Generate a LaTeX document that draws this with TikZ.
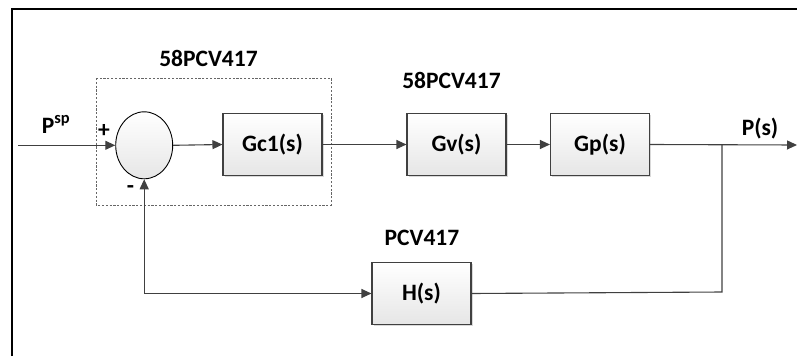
\documentclass[tikz,border=0pt]{standalone}
\usepackage{fontspec}
\setmainfont{Carlito}
\usetikzlibrary{arrows.meta,shapes.geometric,shadows}
\definecolor{wire}{HTML}{404040}
\definecolor{boxbot}{HTML}{E6E6E6}
\tikzset{
  labelfont/.style={font=\fontsize{23.5}{28}\selectfont\bfseries},
  block/.style={draw=wire, line width=1.1pt, rectangle, minimum width=99pt,
    minimum height=62pt, inner sep=0pt, top color=white, bottom color=boxbot,
    drop shadow={shadow xshift=1.5pt, shadow yshift=-1.5pt, opacity=0.3, fill=gray},
    labelfont},
  summer/.style={draw=black, line width=0.9pt, ellipse, minimum width=57pt,
    minimum height=67pt, inner sep=0pt, top color=white, bottom color=boxbot},
  wireline/.style={draw=wire, line width=1.1pt},
  flow/.style={wireline, -{Triangle[length=10pt,width=9pt]}},
  both/.style={wireline, {Triangle[length=10pt,width=9pt]}-{Triangle[length=10pt,width=9pt]}},
  tag/.style={labelfont, anchor=base, inner sep=0pt},
}
\begin{document}
\begin{tikzpicture}[x=1pt, y=-1pt]
\useasboundingbox (0,0) rectangle (797,356);

% outer frame
\draw[line width=2.2pt, black] (12,356) -- (12,9) -- (797,9);

% controller group
\draw[gray!80!black, line width=0.8pt, dash pattern=on 2.2pt off 1.6pt]
  (96,78) rectangle (331,205);

% blocks
\node[summer] (sum) at (144.2,145.3) {};
\node[block] (gc) at (272.5,144.5) {Gc1(s)};
\node[block] (gv) at (456.5,144.5) {Gv(s)};
\node[block] (gp) at (600,144.5) {Gp(s)};
\node[block] (h) at (421.5,293.5) {H(s)};

% labels
\node[tag] (lgc) at (208.5,66) {58PCV417};
\node[tag] (lgv) at (451.5,88) {58PCV417};
\node[tag] (lh) at (422,245) {PCV417};
\node[tag] (lin) at (56,133) {P\textsuperscript{sp}};
\node[tag] (lout) at (760,135) {P(s)};
\node[tag] (plus) at (104,137) {+};
\node[tag] (minus) at (130.5,193) {-};

% signal path
\coordinate (src) at (18,145.3);
\coordinate (sink) at (797,145);
\coordinate (branch) at (722,145);
\coordinate (low) at (722,292);

\draw[flow] (src) -- (sum.west);
\draw[flow] (sum.east) -- (gc.west);
\draw[flow] (gc.east) -- (gv.west);
\draw[flow] (gv.east) -- (gp.west);
\draw[flow] (gp.east) -- (sink);
\draw[wireline] (branch) -- (low) -- (h.east);
\draw[both] (sum.south) |- (h.west);
\end{tikzpicture}
\end{document}
